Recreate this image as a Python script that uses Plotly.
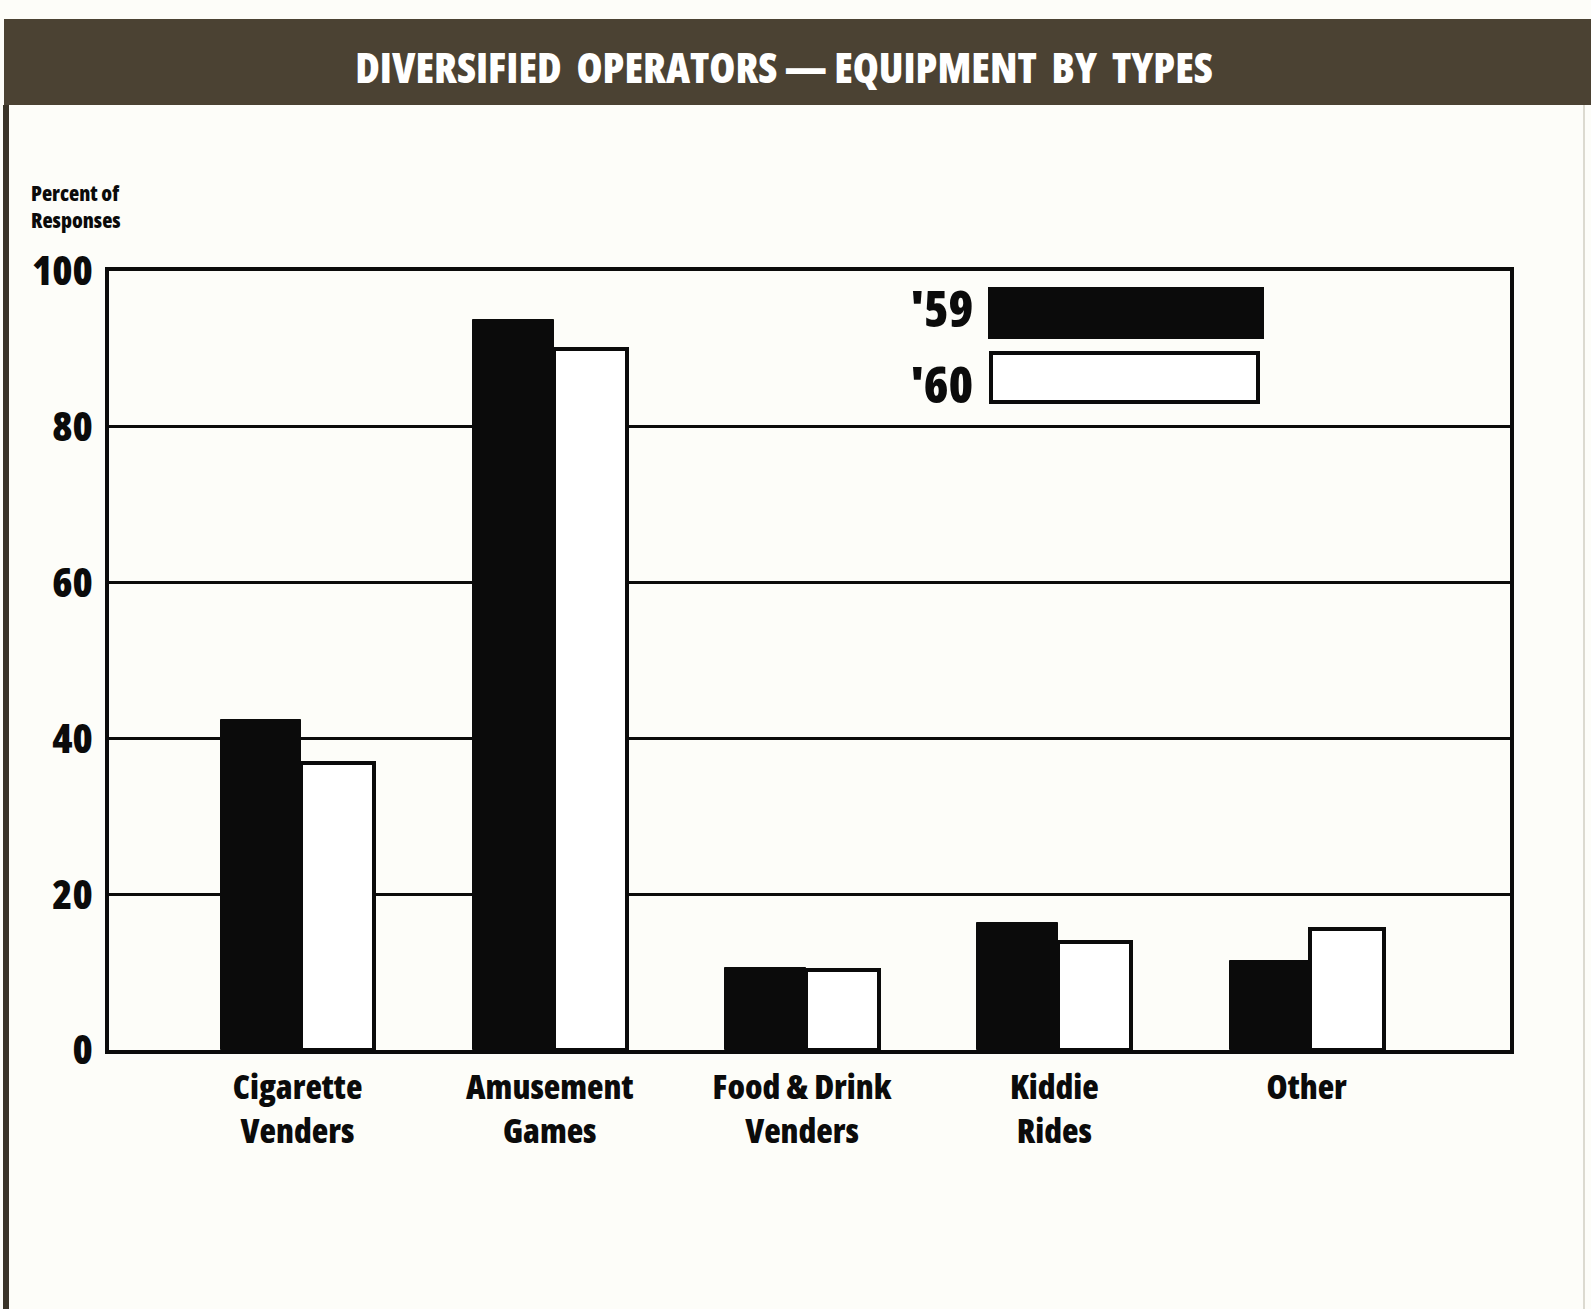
import plotly.graph_objects as go

# Equipment types reported by diversified operators, percent of responses
categories = ["Cigarette<br>Venders", "Amusement<br>Games", "Food & Drink<br>Venders",
              "Kiddie<br>Rides", "Other"]
years = ["'59", "'60"]
pct_59 = [42.3, 93.7, 10.5, 16.3, 11.4]
pct_60 = [36.9, 90.0, 10.3, 13.9, 15.5]
y_ticks = [0, 20, 40, 60, 80, 100]

FONT = "Open Sans, Roboto, sans-serif"
INK = "#0b0b0b"
BG = "#fdfdf9"

fig = go.Figure()
fig.add_trace(go.Bar(
    x=categories, y=pct_59, name=years[0],
    marker=dict(color=INK, line=dict(color=INK, width=1)),
    width=0.32, offset=-0.305,
))
fig.add_trace(go.Bar(
    x=categories, y=pct_60, name=years[1],
    marker=dict(color="white", line=dict(color=INK, width=4)),
    width=0.29, offset=0.015,
))

W, H = 1591, 1309
L, R, T, B = 109, 1510, 271, 1050


def px(x):
    return (x - L) / (R - L)


def py(y):
    return (B - y) / (B - T)


shapes = [
    # dark banner across the top
    dict(type="rect", xref="paper", yref="paper", x0=px(4), x1=px(1591), y0=py(105), y1=py(19),
         fillcolor="#4b4233", line=dict(width=0), layer="below"),
    # left page edge
    dict(type="line", xref="paper", yref="paper", x0=px(6), x1=px(6), y0=py(105), y1=py(1309),
         line=dict(color="#3a3428", width=6)),
    # right page edge
    dict(type="line", xref="paper", yref="paper", x0=px(1584), x1=px(1584), y0=py(105), y1=py(1309),
         line=dict(color="#dcdad0", width=2)),
    # legend swatches
    dict(type="rect", xref="paper", yref="paper", x0=px(989), x1=px(1263), y0=py(338), y1=py(288),
         fillcolor=INK, line=dict(color=INK, width=2)),
    dict(type="rect", xref="paper", yref="paper", x0=px(991), x1=px(1258), y0=py(402), y1=py(353),
         fillcolor="white", line=dict(color=INK, width=4)),
]

annotations = [
    dict(text="DIVERSIFIED  OPERATORS — EQUIPMENT  BY  TYPES", xref="paper", yref="paper",
         x=px(784), y=py(66), xanchor="center", yanchor="middle", showarrow=False,
         font=dict(family=FONT, size=42, color="white", weight=800)),
    dict(text="Percent of<br>Responses", xref="paper", yref="paper",
         x=px(29), y=py(206), xanchor="left", yanchor="middle", align="left", showarrow=False,
         font=dict(family=FONT, size=21, color=INK, weight=800)),
    dict(text=years[0], xref="paper", yref="paper", x=px(975), y=py(308),
         xanchor="right", yanchor="middle", align="right", showarrow=False,
         font=dict(family=FONT, size=50, color=INK, weight=800)),
    dict(text=years[1], xref="paper", yref="paper", x=px(975), y=py(384),
         xanchor="right", yanchor="middle", align="right", showarrow=False,
         font=dict(family=FONT, size=50, color=INK, weight=800)),
]

fig.update_layout(
    width=W, height=H,
    margin=dict(l=L, r=W - R, t=T, b=H - B, pad=0),
    paper_bgcolor=BG, plot_bgcolor=BG,
    showlegend=False, barmode="overlay", bargap=0,
    shapes=shapes, annotations=annotations,
    font=dict(family=FONT, color=INK),
)
fig.update_xaxes(
    type="category", range=[-0.747, 4.806], automargin=False, tickangle=0,
    showgrid=False, showline=True, linecolor=INK, linewidth=4, mirror=True,
    ticks="", tickfont=dict(family=FONT, size=34, color=INK, weight=800),
    ticklabelstandoff=4,
)
fig.update_yaxes(
    range=[0, 100], tickvals=y_ticks, automargin=False,
    showgrid=True, gridcolor=INK, gridwidth=3,
    zeroline=False, showline=True, linecolor=INK, linewidth=4, mirror=True,
    ticks="", tickfont=dict(family=FONT, size=41, color=INK, weight=800),
    ticklabelstandoff=4,
)

# Condensed face of the variable font for all chart text
condensed = """
(function () {
  var st = document.createElement('style');
  st.textContent = '.js-plotly-plot svg text { font-stretch: 75% !important; }';
  document.head.appendChild(st);
})();
"""

fig.write_html("out.html", post_script=condensed)
